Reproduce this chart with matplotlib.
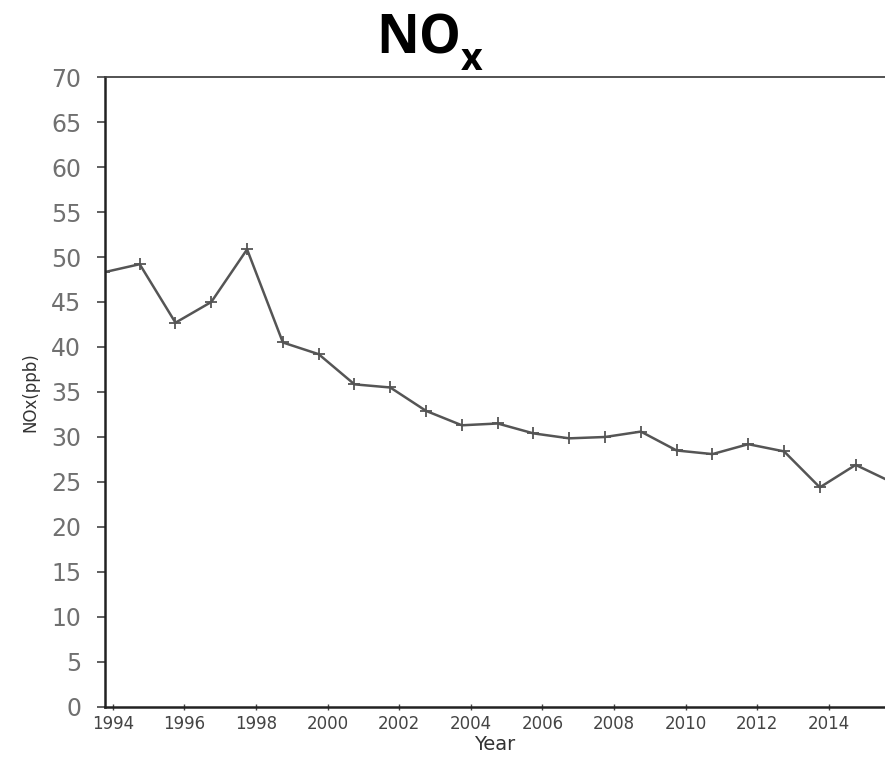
import matplotlib
matplotlib.use('Agg')
import matplotlib.pyplot as plt

# annual NOx (ppb), points plotted at year + 0.75
years = [1993, 1994, 1995, 1996, 1997, 1998, 1999, 2000, 2001, 2002, 2003,
         2004, 2005, 2006, 2007, 2008, 2009, 2010, 2011, 2012, 2013, 2014, 2015]
nox = [48.3, 49.2, 42.7, 45.0, 50.85, 40.5, 39.2, 35.85, 35.5, 32.9, 31.3,
       31.5, 30.4, 29.85, 30.0, 30.6, 28.5, 28.1, 29.2, 28.4, 24.4, 26.9, 25.0]
xticks = list(range(1994, 2015, 2))
yticks = list(range(0, 71, 5))

fig = plt.figure(figsize=(8.85, 7.61), dpi=100)
ax = fig.add_axes([0.1186, 0.0710, 0.8814, 0.8278])

xpos = [y + 0.75 for y in years]
ax.plot(xpos, nox, color='#555555', lw=1.8, marker='+', ms=9, mew=1.3)

ax.set_xlim(1993.78, 2015.57)
ax.set_ylim(0, 70)
ax.set_xticks(xticks)
ax.set_yticks(yticks)

ax.spines['right'].set_visible(False)
for s in ('left', 'bottom'):
    ax.spines[s].set_linewidth(1.8)
    ax.spines[s].set_color('#222222')
ax.spines['top'].set_linewidth(1.3)
ax.spines['top'].set_color('#444444')

ax.tick_params(axis='y', direction='out', length=6, width=1.2, color='#444444',
               pad=11, labelsize=17, labelcolor='#707070')
ax.tick_params(axis='x', direction='inout', length=5, width=1.0, color='#444444',
               pad=3, labelsize=12, labelcolor='#444444')

ax.set_xlabel('Year', fontsize=14, color='#333333', labelpad=2)
ax.set_ylabel('NOx(ppb)', fontsize=12, color='#333333', labelpad=8)

fig.text(376 / 885, 1 - 53 / 761, 'NO', fontsize=38, fontweight='bold',
         family='Open Sans', ha='left', va='baseline')
fig.text(461 / 885, 1 - 70 / 761, 'x', fontsize=27, fontweight='bold',
         family='Open Sans', ha='left', va='baseline')

fig.savefig('out.png', dpi=100)
